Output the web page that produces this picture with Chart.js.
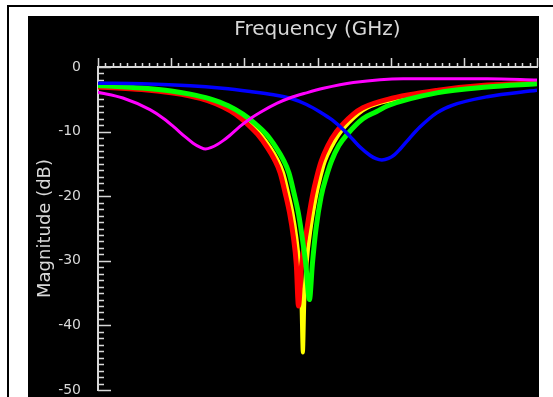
<!DOCTYPE html>
<html>
<head>
<meta charset="utf-8">
<script src="https://cdn.jsdelivr.net/npm/chart.js@4.4.1/dist/chart.umd.min.js"></script>
<style>
  body { margin: 0; background: #fff; width: 553px; height: 397px; overflow: hidden; position: relative; }
  #frame { position: absolute; left: 7px; top: 5px; width: 560px; height: 400px;
           border-top: 2px solid #000; border-left: 2px solid #000; }
  #plot { position: absolute; left: 28px; top: 16px; background: #000; }
</style>
</head>
<body>
<div id="frame"></div>
<canvas id="plot" width="511" height="381"></canvas>
<script>
// frequency axis (no labels on the original), magnitude in dB
const yTicks = [0, -10, -20, -30, -40, -50]

const redF  = [0, 0.6, 1.0, 1.26, 1.5, 1.71, 1.88, 2.03, 2.18, 2.31, 2.41, 2.49, 2.56, 2.62, 2.67, 2.71, 2.74,
               2.78, 2.86, 2.93, 2.99, 3.05, 3.14, 3.26, 3.49, 3.62, 3.96, 4.65, 5.32, 6.0]
const redDb = [-3.1, -3.5, -4.0, -4.5, -5.2, -6.2, -7.3, -8.7, -10.4, -12.4, -14.3, -16.4, -19.6, -22.7, -26.3, -30.5, -37,
               -31, -24.7, -20, -17, -14.6, -12.2, -10, -7.3, -6.3, -5.0, -3.6, -2.8, -2.5]

const yelF  = [0, 0.6, 1.0, 1.26, 1.5, 1.74, 1.92, 2.07, 2.22, 2.35, 2.45, 2.53, 2.60, 2.66, 2.71, 2.75, 2.78, 2.80,
               2.82, 2.85, 2.91, 2.98, 3.04, 3.10, 3.20, 3.32, 3.55, 3.68, 4.02, 4.65, 5.32, 6.0]
const yelDb = [-3.0, -3.4, -3.9, -4.4, -5.1, -6.2, -7.3, -8.7, -10.4, -12.4, -14.3, -16.4, -19.6, -22.7, -26.3, -30.5, -36, -44.2,
               -36, -30.5, -24.7, -20, -17, -14.6, -12.2, -10, -7.3, -6.3, -5.1, -3.7, -2.85, -2.5]

const grnF  = [0, 0.6, 1.0, 1.26, 1.52, 1.78, 1.98, 2.14, 2.30, 2.43, 2.53, 2.61, 2.68, 2.74, 2.79, 2.84, 2.89,
               2.93, 2.98, 3.05, 3.12, 3.19, 3.29, 3.40, 3.62, 3.81, 3.96, 4.63, 5.32, 6.0]
const grnDb = [-2.85, -3.25, -3.7, -4.2, -4.9, -6.0, -7.3, -8.7, -10.4, -12.4, -14.3, -16.4, -19.6, -22.7, -26.3, -30.5, -36,
               -30.5, -25, -20, -17, -14.6, -12.2, -10.5, -8.0, -6.9, -6.0, -4.0, -3.1, -2.6]

const bluF  = [0, 0.6, 1.26, 1.7, 2.08, 2.4, 2.62, 2.85, 3.04, 3.20, 3.40, 3.58, 3.72, 3.80, 3.88, 3.97, 4.05, 4.13, 4.26, 4.40, 4.63, 4.85, 5.32, 6.0]
const bluDb = [-2.5, -2.6, -2.9, -3.3, -3.8, -4.3, -4.8, -5.8, -7.0, -8.2, -10.2, -12.4, -13.7, -14.2, -14.4, -14.15, -13.6, -12.7, -11.0, -9.3, -7.1, -5.9, -4.6, -3.6]

const magF  = [0, 0.34, 0.71, 0.90, 1.05, 1.18, 1.30, 1.40, 1.47, 1.55, 1.63, 1.71, 1.80, 1.94, 2.08, 2.22, 2.45, 2.62, 2.85, 3.08, 3.49, 4.17, 5.32, 6.0]
const magDb = [-3.9, -4.8, -6.6, -8.0, -9.4, -10.7, -11.8, -12.45, -12.7, -12.45, -12.0, -11.4, -10.6, -9.2, -8.0, -7.0, -5.6, -4.8, -4.0, -3.3, -2.4, -1.8, -1.8, -2.0]

function pts(xs, ys) {
  let out = []
  for (let i = 0; i < xs.length; i++) out.push({x: xs[i], y: ys[i]})
  return out
}

function line(data, color, width, order) {
  return {
    data: data,
    borderColor: color,
    borderWidth: width,
    pointRadius: 0,
    cubicInterpolationMode: 'monotone',
    order: order
  }
}

const axisColor = '#d8d8d8'
const font = 'DejaVu Sans'

// minor/major tick marks like the original plot
const tickMarks = {
  id: 'tickMarks',
  beforeDatasetsDraw(chart) {
    const ctx = chart.ctx
    const xs = chart.scales.x
    const ys = chart.scales.y
    const area = chart.chartArea
    ctx.save()
    ctx.strokeStyle = axisColor
    ctx.lineWidth = 1.5
    ctx.beginPath()
    for (let i = 0; i <= 60; i++) {
      let px = Math.round(xs.getPixelForValue(i / 10)) + 0.5
      let len = i % 10 === 0 ? 9 : 4
      ctx.moveTo(px, area.top)
      ctx.lineTo(px, area.top - len)
    }
    for (let i = 0; i <= 50; i++) {
      let py = Math.round(ys.getPixelForValue(-i)) + 0.5
      let len = i % 10 === 0 ? 13 : 6
      ctx.moveTo(area.left, py)
      ctx.lineTo(area.left + len, py)
    }
    ctx.stroke()
    ctx.restore()
  }
}

new Chart(document.getElementById('plot'), {
  type: 'line',
  data: {
    datasets: [
      line(pts(magF, magDb), '#ff00ff', 3, 1),
      line(pts(bluF, bluDb), '#0000ff', 3.5, 2),
      line(pts(grnF, grnDb), '#00ff00', 5, 3),
      line(pts(redF, redDb), '#ff0000', 5, 4),
      line(pts(yelF, yelDb), '#ffff00', 4, 5)
    ]
  },
  options: {
    responsive: false,
    animation: false,
    devicePixelRatio: 1,
    layout: {padding: {left: 0, top: 0, right: 2, bottom: 7}},
    plugins: {legend: {display: false}, tooltip: {enabled: false}},
    scales: {
      x: {
        type: 'linear',
        position: 'top',
        min: 0,
        max: 6,
        ticks: {display: false},
        grid: {display: false},
        border: {display: true, color: axisColor, width: 2},
        title: {
          display: true,
          text: 'Frequency (GHz)',
          color: axisColor,
          font: {family: font, size: 20},
          padding: {top: 2, bottom: 0}
        },
        afterFit(scale) {
          scale.height = 51
          scale.paddingLeft = 0
          scale.paddingRight = 0
        }
      },
      y: {
        min: -50,
        max: 0,
        afterBuildTicks(scale) { scale.ticks = yTicks.map(v => ({value: v})) },
        ticks: {color: axisColor, font: {family: font, size: 14}, padding: 9},
        grid: {display: false},
        border: {display: true, color: axisColor, width: 2},
        title: {
          display: true,
          text: 'Magnitude (dB)',
          color: axisColor,
          font: {family: font, size: 18},
          padding: {top: 7, bottom: 0}
        },
        afterFit(scale) {
          scale.width = 70
          scale.paddingTop = 0
          scale.paddingBottom = 0
        }
      }
    }
  },
  plugins: [tickMarks]
})
</script>
</body>
</html>
